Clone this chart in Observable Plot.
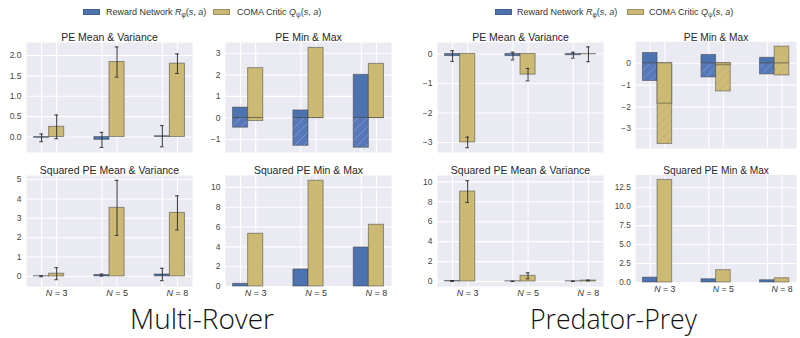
<!DOCTYPE html>
<html><head><meta charset="utf-8">
<script src="https://cdn.jsdelivr.net/npm/d3@7"></script>
<script src="https://cdn.jsdelivr.net/npm/@observablehq/plot@0.6"></script>
<style>
body{margin:0;width:800px;height:338px;overflow:hidden;background:#fff;font-family:"Liberation Sans",Arial,sans-serif;position:relative}
.panel{position:absolute}
.sw{position:absolute;width:17px;height:6px;top:9px;box-sizing:border-box;border:1px solid rgba(60,60,60,0.35)}
.lt{position:absolute;top:6px;font-size:9px;color:#333;white-space:nowrap;line-height:12px}
.lt sub{font-size:6.5px;vertical-align:-2px;line-height:0}
</style></head>
<body>
<svg width="0" height="0" style="position:absolute">
<defs>
<pattern id="hatchBlue" patternUnits="userSpaceOnUse" width="9" height="9">
<rect width="9" height="9" fill="#5678b8"/>
<path d="M-2,2 l4,-4 M0,9 l9,-9 M7,11 l4,-4" stroke="#fff" stroke-opacity="0.22" stroke-width="1"/>
</pattern>
<pattern id="hatchGold" patternUnits="userSpaceOnUse" width="9" height="9">
<rect width="9" height="9" fill="#cfbc79"/>
<path d="M-2,2 l4,-4 M0,9 l9,-9 M7,11 l4,-4" stroke="#8a7a40" stroke-opacity="0.25" stroke-width="1"/>
</pattern>
</defs>
</svg>
<div id="root"></div>
<script>
// ---------- data ----------
const categories = ["N = 3", "N = 5", "N = 8"];
const seriesNames = ["Reward Network", "COMA Critic"];
const seriesColors = ["#4C72B0", "#CCB974"];

// Multi-Rover
const mrPeMeanReward = [-0.02, -0.07, 0.02];
const mrPeErrReward  = [0.095, 0.185, 0.26];
const mrPeMeanComa   = [0.25, 1.84, 1.80];
const mrPeErrComa    = [0.29, 0.37, 0.24];
const mrPeMinReward  = [-0.45, -1.29, -1.38];
const mrPeMaxReward  = [0.48, 0.35, 2.0];
const mrPeMinComa    = [-0.14, -0.01, -0.01];
const mrPeMaxComa    = [2.31, 3.25, 2.51];
const mrSqMeanReward = [0.01, 0.07, 0.10];
const mrSqErrReward  = [0.03, 0.05, 0.32];
const mrSqMeanComa   = [0.14, 3.54, 3.28];
const mrSqErrComa    = [0.31, 1.42, 0.88];
const mrSqMinReward  = [0, 0, 0];
const mrSqMaxReward  = [0.27, 1.72, 3.94];
const mrSqMinComa    = [0, 0, 0];
const mrSqMaxComa    = [5.32, 10.67, 6.23];

// Predator-Prey
const ppPeMeanReward = [-0.07, -0.07, -0.04];
const ppPeErrReward  = [0.18, 0.13, 0.10];
const ppPeMeanComa   = [-3.0, -0.70, -0.01];
const ppPeErrComa    = [0.18, 0.21, 0.25];
const ppPeMinReward  = [-0.81, -0.65, -0.51];
const ppPeMaxReward  = [0.47, 0.38, 0.25];
const ppPeMinComa    = [-3.69, -1.29, -0.56];
const ppPeMaxComa    = [-1.85, -0.09, 0.76];
const ppSqMeanReward = [0.05, 0.02, 0.02];
const ppSqErrReward  = [0.05, 0.02, 0.02];
const ppSqMeanComa   = [9.03, 0.57, 0.10];
const ppSqErrComa    = [1.09, 0.30, 0.04];
const ppSqMinReward  = [0, 0, 0];
const ppSqMaxReward  = [0.64, 0.43, 0.30];
const ppSqMinComa    = [0, 0, 0];
const ppSqMaxComa    = [13.53, 1.63, 0.56];

// titles & ticks
const titles = ["PE Mean & Variance", "PE Min & Max", "Squared PE Mean & Variance", "Squared PE Min & Max"];
const groupLabels = ["Multi-Rover", "Predator-Prey"];
const legendLabels = ["Reward Network", "COMA Critic"];

// ---------- helpers ----------
const HALF = 0.125;
const center = (i, s) => i + (s === 0 ? -HALF : HALF);

function meanRows(m0, e0, m1, e1) {
  return categories.flatMap((c, i) => [
    {cat: c, i, s: 0, v: m0[i], err: e0[i]},
    {cat: c, i, s: 1, v: m1[i], err: e1[i]}
  ]);
}
function minMaxRows(mn0, mx0, mn1, mx1) {
  return categories.flatMap((c, i) => [
    {cat: c, i, s: 0, min: mn0[i], max: mx0[i]},
    {cat: c, i, s: 1, min: mn1[i], max: mx1[i]}
  ]);
}

const W = 166;
function panel({left, top, h, title, yDomain, yTicks, yFormat, bottom, kind, rows}) {
  const mL = 30, mR = 4, mT = 22, mB = bottom ? 16 : 4;
  const gridX = categories.flatMap((c, i) => [center(i, 0), center(i, 1)]);
  const xTicks = categories.map((c, i) => center(i, 1));
  const x1 = d => center(d.i, d.s) - HALF, x2 = d => center(d.i, d.s) + HALF;
  const fill = d => seriesColors[d.s];
  const edge = {stroke: "#3a3a3a", strokeOpacity: 0.5, strokeWidth: 1};
  const marks = [
    Plot.frame({fill: "#EAEAF2", stroke: null}),
    Plot.gridY(yTicks, {stroke: "#fff", strokeOpacity: 1, strokeWidth: 1.1}),
    Plot.ruleX(gridX, {stroke: "#fff", strokeOpacity: 1, strokeWidth: 1.1}),
  ];
  if (kind === "mean") {
    marks.push(
      Plot.rectY(rows, {x1, x2, y1: 0, y2: "v", fill, ...edge}),
      Plot.ruleX(rows, {x: d => center(d.i, d.s), y1: d => d.v - d.err, y2: d => d.v + d.err, stroke: "#333", strokeWidth: 1}),
      Plot.ruleY(rows, {y: d => d.v + d.err, x1: d => center(d.i, d.s) - 0.03, x2: d => center(d.i, d.s) + 0.03, stroke: "#333", strokeWidth: 1}),
      Plot.ruleY(rows, {y: d => d.v - d.err, x1: d => center(d.i, d.s) - 0.03, x2: d => center(d.i, d.s) + 0.03, stroke: "#333", strokeWidth: 1})
    );
  } else {
    marks.push(
      Plot.rectY(rows, {x1, x2, y1: 0, y2: "min", fill: d => d.s === 0 ? "url(#hatchBlue)" : "url(#hatchGold)", ...edge}),
      Plot.rectY(rows, {x1, x2, y1: 0, y2: "max", fill, ...edge})
    );
  }
  marks.push(
    Plot.axisY(yTicks, {tickSize: 0, tickPadding: 5, fontSize: 8.5, fill: "#444", tickFormat: d3.format(yFormat), label: null}),
    Plot.text([title], {frameAnchor: "top", dy: -8.5, fontSize: 10.5, fill: "#262626", fontFamily: "Liberation Sans, Arial, sans-serif"})
  );
  if (bottom) {
    marks.push(Plot.axisX(xTicks, {tickSize: 0, tickPadding: 3, fontSize: 9, fill: "#333", label: null,
      tickFormat: d => categories[Math.round(d - HALF)]}));
  }
  const svg = Plot.plot({
    width: mL + W + mR, height: mT + h + mB,
    marginLeft: mL, marginRight: mR, marginTop: mT, marginBottom: mB,
    style: {fontFamily: "Liberation Sans, Arial, sans-serif", background: "transparent", overflow: "visible"},
    x: {domain: [-0.375, 2.375], axis: bottom ? undefined : null},
    y: {domain: yDomain},
    marks
  });
  // italic N in x tick labels
  svg.querySelectorAll("text").forEach(t => {
    const s = t.textContent;
    if (/^N = \d$/.test(s)) {
      t.textContent = "";
      const ts = document.createElementNS("http://www.w3.org/2000/svg", "tspan");
      ts.setAttribute("font-style", "italic");
      ts.textContent = "N";
      t.appendChild(ts);
      t.appendChild(document.createTextNode(s.slice(1)));
    }
  });
  const div = document.createElement("div");
  div.className = "panel";
  div.style.left = (left - mL) + "px";
  div.style.top = (top - mT) + "px";
  div.appendChild(svg);
  document.getElementById("root").appendChild(div);
}

const colsX = [26, 225, 437, 636];
const topY = 42, botY = 175;

panel({left: colsX[0], top: topY, h: 110, title: titles[0], yDomain: [-0.38, 2.32], yTicks: [0, 0.5, 1, 1.5, 2], yFormat: ".1f", bottom: false, kind: "mean",
  rows: meanRows(mrPeMeanReward, mrPeErrReward, mrPeMeanComa, mrPeErrComa)});
panel({left: colsX[1], top: topY, h: 110, title: titles[1], yDomain: [-1.6, 3.5], yTicks: [-1, 0, 1, 2, 3], yFormat: "d", bottom: false, kind: "minmax",
  rows: minMaxRows(mrPeMinReward, mrPeMaxReward, mrPeMinComa, mrPeMaxComa)});
panel({left: colsX[2], top: topY, h: 110, title: titles[0], yDomain: [-3.34, 0.39], yTicks: [-3, -2, -1, 0], yFormat: "d", bottom: false, kind: "mean",
  rows: meanRows(ppPeMeanReward, ppPeErrReward, ppPeMeanComa, ppPeErrComa)});
panel({left: colsX[3], top: topY, h: 110, title: titles[1], yDomain: [-3.9, 0.98], yTicks: [-3, -2, -1, 0], yFormat: "d", bottom: false, kind: "minmax",
  rows: minMaxRows(ppPeMinReward, ppPeMaxReward, ppPeMinComa, ppPeMaxComa)});

panel({left: colsX[0], top: botY, h: 111, title: titles[2], yDomain: [-0.52, 5.21], yTicks: [0, 1, 2, 3, 4, 5], yFormat: "d", bottom: true, kind: "mean",
  rows: meanRows(mrSqMeanReward, mrSqErrReward, mrSqMeanComa, mrSqErrComa)});
panel({left: colsX[1], top: botY, h: 111, title: titles[3], yDomain: [0, 11.2], yTicks: [0, 2, 4, 6, 8, 10], yFormat: "d", bottom: true, kind: "minmax",
  rows: minMaxRows(mrSqMinReward, mrSqMaxReward, mrSqMinComa, mrSqMaxComa)});
panel({left: colsX[2], top: botY, h: 111, title: titles[2], yDomain: [-0.5, 10.64], yTicks: [0, 2, 4, 6, 8, 10], yFormat: "d", bottom: true, kind: "mean",
  rows: meanRows(ppSqMeanReward, ppSqErrReward, ppSqMeanComa, ppSqErrComa)});
panel({left: colsX[3], top: botY, h: 111, title: titles[3], yDomain: [0, 14.2], yTicks: [0, 2.5, 5, 7.5, 10, 12.5], yFormat: ".1f", bottom: true, kind: "minmax",
  rows: minMaxRows(ppSqMinReward, ppSqMaxReward, ppSqMinComa, ppSqMaxComa)});

// ---------- legends ----------
const root = document.getElementById("root");
const legendPos = [[83, 106, 213, 237], [495, 517, 627, 649]];
legendPos.forEach(([s0, t0, s1, t1]) => {
  root.insertAdjacentHTML("beforeend",
    `<div class="sw" style="left:${s0}px;background:${seriesColors[0]}"></div>
     <div class="lt" style="left:${t0}px">${legendLabels[0]} <i>R</i><sub>φ</sub>(<i>s</i>, <i>a</i>)</div>
     <div class="sw" style="left:${s1}px;background:${seriesColors[1]}"></div>
     <div class="lt" style="left:${t1}px">${legendLabels[1]} <i>Q</i><sub>ψ</sub>(<i>s</i>, <i>a</i>)</div>`);
});

// ---------- group labels ----------
root.insertAdjacentHTML("beforeend",
  `<svg width="800" height="338" style="position:absolute;left:0;top:0;pointer-events:none">
    <text x="130" y="329" font-family="'Open Sans', 'DejaVu Sans', sans-serif" font-weight="300" font-size="28" fill="#111" textLength="144" lengthAdjust="spacingAndGlyphs">${groupLabels[0]}</text>
    <text x="530" y="329" font-family="'Open Sans', 'DejaVu Sans', sans-serif" font-weight="300" font-size="28" fill="#111" textLength="167" lengthAdjust="spacingAndGlyphs">${groupLabels[1]}</text>
  </svg>`);
</script>
</body></html>
